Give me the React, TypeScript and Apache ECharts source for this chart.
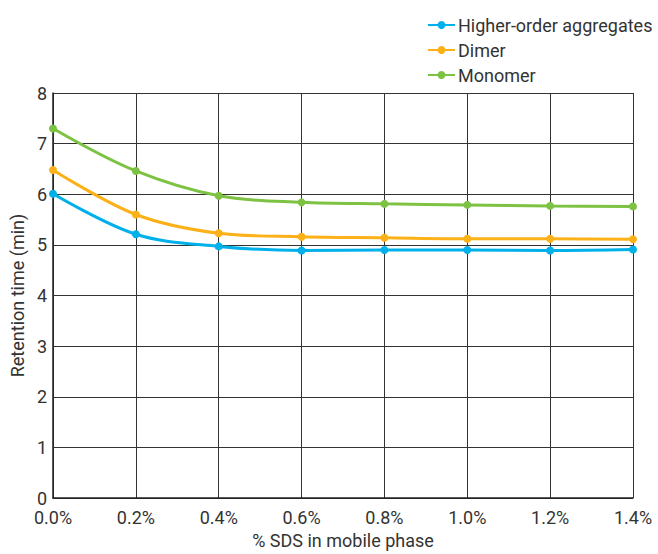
import React, { useEffect, useRef } from "react";
import * as echarts from "echarts";

const categories = ["0.0%", "0.2%", "0.4%", "0.6%", "0.8%", "1.0%", "1.2%", "1.4%"];
const higherOrder = [6.01, 5.21, 4.97, 4.89, 4.9, 4.9, 4.89, 4.91];
const dimer = [6.48, 5.6, 5.23, 5.16, 5.14, 5.12, 5.12, 5.11];
const monomer = [7.3, 6.46, 5.97, 5.84, 5.81, 5.79, 5.77, 5.76];
const seriesNames = ["Higher-order aggregates", "Dimer", "Monomer"];
const colors = ["#00b0ea", "#fbb117", "#7dc242"];

export default function App() {
  const ref = useRef<HTMLDivElement>(null);
  useEffect(() => {
    const chart = echarts.init(ref.current!, null, { renderer: "svg" });
    const mk = (name: string, data: number[], color: string) => ({
      name,
      type: "line",
      data,
      smooth: 0.35,
      symbol: "circle",
      symbolSize: 8,
      itemStyle: { color },
      lineStyle: { color, width: 3 },
    });
    chart.setOption({
      animation: false,
      textStyle: { fontFamily: "Roboto" },
      legend: {
        orient: "vertical",
        left: 422,
        top: 11,
        itemGap: 7,
        itemWidth: 27,
        itemHeight: 10,
        textStyle: { fontSize: 18, color: "#333", padding: [0, 0, 0, -2] },
        data: seriesNames,
      },
      grid: { left: 51, right: 25, top: 93, bottom: 51 },
      xAxis: {
        type: "category",
        data: categories,
        boundaryGap: false,
        name: "% SDS in mobile phase",
        nameLocation: "middle",
        nameGap: 33,
        nameTextStyle: { fontSize: 18, color: "#333" },
        axisLine: { lineStyle: { color: "#222", width: 1.5 } },
        axisTick: { show: false },
        axisLabel: { fontSize: 18, color: "#333", margin: 10 },
        splitLine: { show: true, lineStyle: { color: "#333", width: 1 } },
      },
      yAxis: {
        type: "value",
        min: 0,
        max: 8,
        interval: 1,
        name: "Retention time (min)",
        nameLocation: "middle",
        nameGap: 25,
        nameTextStyle: { fontSize: 18, color: "#333" },
        axisLine: { show: true, lineStyle: { color: "#222", width: 1.5 } },
        axisTick: { show: false },
        axisLabel: { fontSize: 18, color: "#333", margin: 6 },
        splitLine: { show: true, lineStyle: { color: "#333", width: 1 } },
      },
      series: [
        mk(seriesNames[0], higherOrder, colors[0]),
        mk(seriesNames[1], dimer, colors[1]),
        mk(seriesNames[2], monomer, colors[2]),
      ],
    });
    return () => chart.dispose();
  }, []);
  return (
    <div
      ref={ref}
      style={{ position: "absolute", left: 0, top: 0, width: 658, height: 554 }}
    />
  );
}
